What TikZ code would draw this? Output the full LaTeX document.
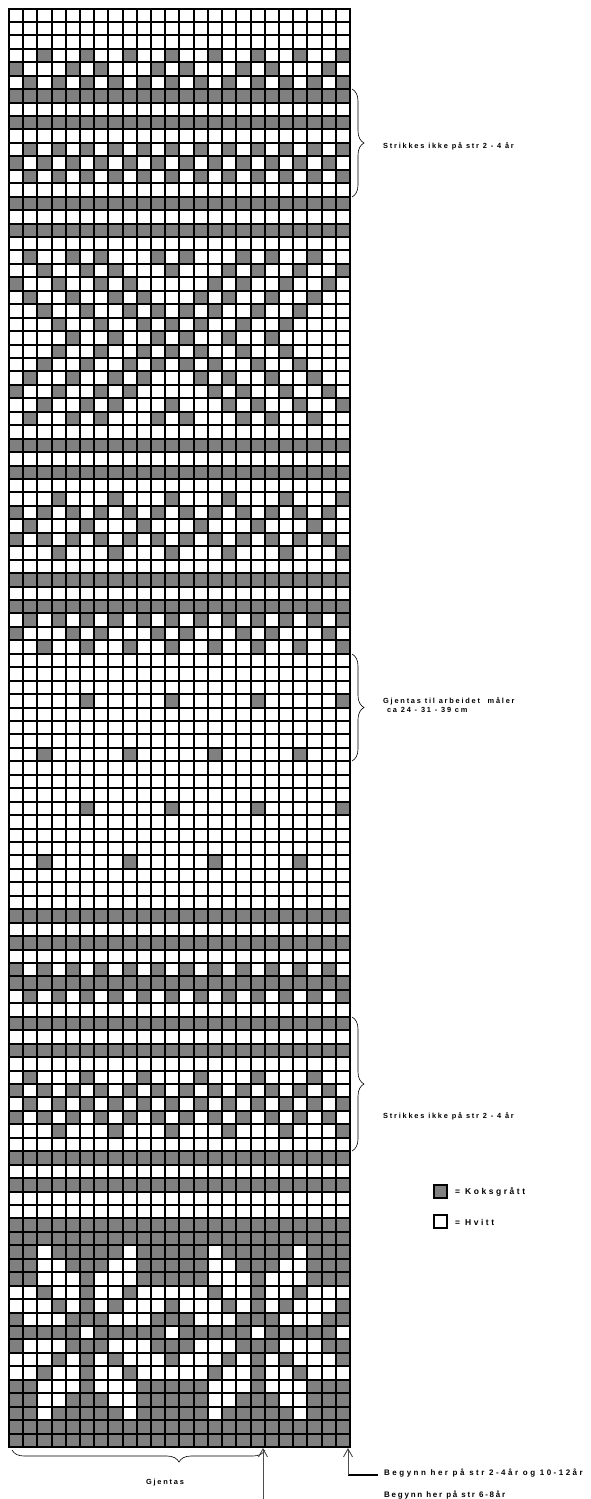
\documentclass[tikz,border=0pt]{standalone}
\usepackage{fontspec}
\setmainfont{Liberation Sans}
\usetikzlibrary{decorations.pathreplacing,arrows.meta}
\tikzset{
  cellg/.style={fill=gray},
  gl/.style={line width=1.6pt,black},
  brc/.style={decorate,decoration={brace,amplitude=12pt},line width=0.6pt},
  lbl/.style={font=\fontsize{7.4}{9.5}\selectfont\bfseries\addfontfeature{LetterSpace=24},anchor=west,inner sep=0pt,align=left},
  leglbl/.style={font=\fontsize{8.5}{10}\selectfont\bfseries\addfontfeature{LetterSpace=30},anchor=west,inner sep=0pt},
  botlbl/.style={font=\fontsize{8}{10}\selectfont\bfseries,anchor=west,inner sep=0pt},
  legbox/.style={draw,line width=1.2pt,minimum size=13pt,inner sep=0pt},
  arr/.style={line width=0.9pt,draw=black!70,-{Straight Barb[length=8pt,width=9pt]}}
}
\newcommand{\cellat}[3]{\fill[#3] ({round(9+(#2-1)*14.2083)},{round(8.5+(#1-1)*13.444)}) rectangle ({round(9+(#2)*14.2083)},{round(8.5+(#1)*13.444)});}
\begin{document}
\begin{tikzpicture}[x=1pt,y=-1pt]
\useasboundingbox (0,0) rectangle (591,1499);
\def\cw{14.2083}
\def\rh{13.444}
% full dark rows
\foreach \r in {7,9,15,17,33,35,43,45,68,70,73,76,78,86,88,91,92,93,94,95,99,103,104,105,106,107}
  \fill[cellg] (9,{round(8.5+(\r-1)*\rh)}) rectangle (350,{round(8.5+\r*\rh)});
% white exceptions in dark rows
\foreach \r/\cl in {93/{3,9,15,21},105/{3,9,15,21},
  94/{3,4,8,9,15,16,20,21},104/{3,4,8,9,15,16,20,21},
  95/{3,4,5,7,8,9,15,16,17,19,20,21},103/{3,4,5,7,8,9,15,16,17,19,20,21},
  99/{6,12,18,24}}
  {\foreach \c in \cl {\cellat{\r}{\c}{white}}}
% dark cells in light rows
\foreach \r/\cl in {
  4/{3,6,...,24},5/{1,5,7,11,13,17,19,23},6/{2,4,...,24},
  11/{2,4,...,24},12/{1,3,...,23},13/{2,4,...,24},
  19/{2,5,7,11,13,17,19,22},20/{3,6,8,12,16,18,21,24},21/{1,4,7,9,15,17,20,23},
  22/{2,5,8,10,14,16,19,22},23/{3,6,9,11,13,15,18,21},24/{4,7,10,12,14,17,20},
  25/{5,8,11,13,16,19},26/{4,7,10,12,14,17,20},27/{3,6,9,11,13,15,18,21},
  28/{2,5,8,10,14,16,19,22},29/{1,4,7,9,15,17,20,23},30/{3,6,8,12,16,18,21,24},
  31/{2,5,7,11,13,17,19,22},
  37/{4,8,...,24},38/{1,3,...,23},39/{2,6,...,22},40/{1,3,...,23},41/{4,8,...,24},
  46/{2,4,...,24},47/{1,5,7,11,13,17,19,23},48/{3,6,...,24},
  52/{6,12,18,24},56/{3,9,15,21},60/{6,12,18,24},64/{3,9,15,21},
  72/{1,3,...,23},74/{2,4,...,24},
  80/{2,6,...,22},81/{1,3,...,23},82/{2,4,...,24},83/{1,3,...,23},84/{4,8,...,24},
  96/{3,6,9,15,18,21},102/{3,6,9,15,18,21},
  97/{4,6,8,12,16,18,20,24},101/{4,6,8,12,16,18,20,24},
  98/{1,5,6,7,11,12,13,17,18,19,23,24},100/{1,5,6,7,11,12,13,17,18,19,23,24}}
  {\foreach \c in \cl {\cellat{\r}{\c}{gray}}}
% grid lines
\foreach \i in {0,...,24} \draw[gl] ({round(9+\i*\cw)},8) -- ({round(9+\i*\cw)},1447.8);
\foreach \j in {0,...,107} \draw[gl] (8.2,{round(8.5+\j*\rh)}) -- (350.8,{round(8.5+\j*\rh)});
% braces right
\coordinate (b1a) at (352,89);   \coordinate (b1b) at (352,197);
\coordinate (b2a) at (352,654);  \coordinate (b2b) at (352,761);
\coordinate (b3a) at (352,1017); \coordinate (b3b) at (352,1151);
\draw[brc] (b1a) -- (b1b);
\draw[brc] (b2a) -- (b2b);
\draw[brc] (b3a) -- (b3b);
\node[lbl] (t1) at (383,146) {Strikkes ikke på str 2 - 4 år};
\node[lbl] (t2) at (383,705) {Gjentas til arbeidet\ \ måler\\\ ca 24 - 31 - 39 cm};
\node[lbl] (t3) at (383,1116) {Strikkes ikke på str 2 - 4 år};
% legend
\node[legbox,fill=gray] (lg1) at (440.5,1191.5) {};
\node[leglbl] (lt1) at (455,1192) {= Koksgrått};
\node[legbox,fill=white] (lg2) at (440.5,1221.5) {};
\node[leglbl] (lt2) at (455,1222) {= Hvitt};
% bottom brace
\coordinate (bb1) at (265,1450);
\coordinate (bb2) at (12,1450);
\draw[brc,decoration={brace,amplitude=12pt,aspect=0.34}] (bb1) -- (bb2);
\node[lbl,anchor=center] (tg) at (165,1483) {Gjentas};
% arrows
\coordinate (a1s) at (263,1499); \coordinate (a1e) at (263,1448);
\draw[arr] (a1s) -- (a1e);
\coordinate (a2h) at (378,1475); \coordinate (a2s) at (348,1475); \coordinate (a2e) at (348,1448);
\draw[line width=1.8pt] (a2h) -- (a2s);
\draw[arr] (a2s) -- (a2e);
\node[botlbl,font=\fontsize{8}{10}\selectfont\bfseries\addfontfeature{LetterSpace=31}] (tb1) at (384,1473) {Begynn her på str 2-4år og 10-12år};
\node[botlbl,font=\fontsize{8}{10}\selectfont\bfseries\addfontfeature{LetterSpace=22}] (tb2) at (384,1495) {Begynn her på str 6-8år};
\end{tikzpicture}
\end{document}
